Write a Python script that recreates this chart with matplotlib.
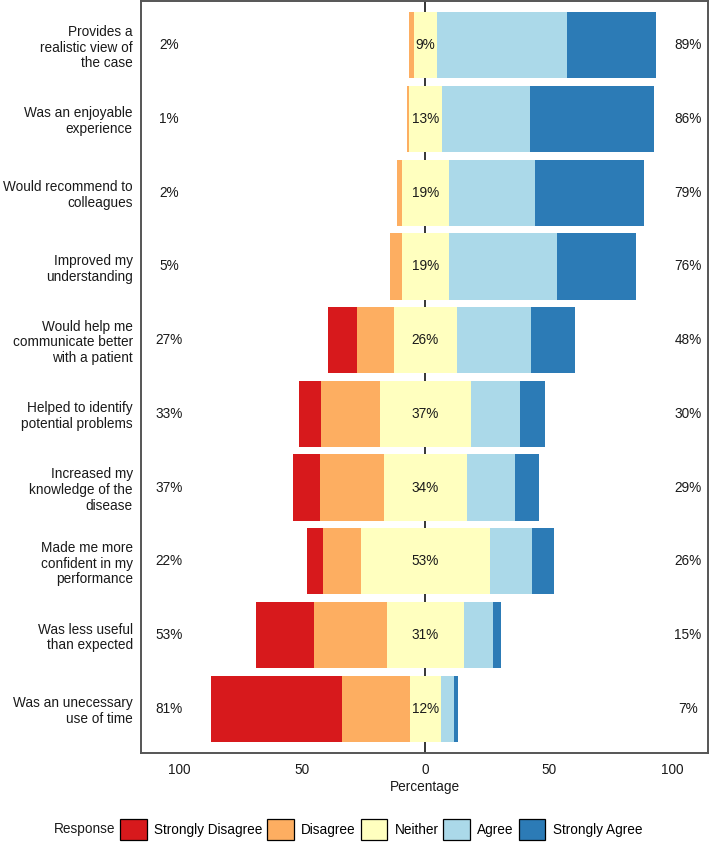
import matplotlib
matplotlib.use("Agg")
import matplotlib.pyplot as plt
from matplotlib.patches import Patch
import numpy as np

plt.rcParams['font.family'] = ['Liberation Sans', 'DejaVu Sans']

items = [
    "Provides a\nrealistic view of\nthe case",
    "Was an enjoyable\nexperience",
    "Would recommend to\ncolleagues",
    "Improved my\nunderstanding",
    "Would help me\ncommunicate better\nwith a patient",
    "Helped to identify\npotential problems",
    "Increased my\nknowledge of the\ndisease",
    "Made me more\nconfident in my\nperformance",
    "Was less useful\nthan expected",
    "Was an unecessary\nuse of time",
]
levels = ["Strongly Disagree", "Disagree", "Neither", "Agree", "Strongly Agree"]
colors = ["#D7191C", "#FDAE61", "#FFFFBF", "#ABD9E9", "#2C7BB6"]

strongly_disagree = [0.0, 0.0, 0.0, 0.0, 11.9, 9.2, 11.1, 6.5, 23.6, 53.0]
disagree          = [2.0, 1.0, 2.0, 5.0, 14.9, 23.9, 25.8, 15.2, 29.8, 27.9]
neither           = [9.0, 13.0, 19.0, 19.0, 25.6, 36.7, 33.8, 52.6, 31.0, 12.3]
agree             = [53.0, 36.0, 35.0, 44.0, 29.9, 19.9, 19.3, 16.8, 11.8, 5.6]
strongly_agree    = [36.0, 50.0, 44.0, 32.0, 17.8, 10.2, 10.0, 8.9, 3.4, 1.3]

W, H = 709, 844
fig = plt.figure(figsize=(W / 100, H / 100), dpi=100)
ax = fig.add_axes([141 / W, (H - 753) / H, (708 - 141) / W, (753 - 1) / H])

sd = np.array(strongly_disagree)
d = np.array(disagree)
n = np.array(neither)
a = np.array(agree)
sa = np.array(strongly_agree)
y = np.arange(len(items))

ax.axvline(0, color="black", lw=1.1, zorder=1)

bh = 0.9
left_n = -n / 2
ax.barh(y, n, left=left_n, height=bh, color=colors[2], zorder=2, lw=0)
ax.barh(y, -d, left=left_n, height=bh, color=colors[1], zorder=2, lw=0)
ax.barh(y, -sd, left=left_n - d, height=bh, color=colors[0], zorder=2, lw=0)
ax.barh(y, a, left=n / 2, height=bh, color=colors[3], zorder=2, lw=0)
ax.barh(y, sa, left=n / 2 + a, height=bh, color=colors[4], zorder=2, lw=0)

fs = 9.8
tc = "#1a1a1a"
low = sd + d
high = a + sa
for i in range(len(items)):
    ax.text(-104, y[i], f"{round(low[i]):.0f}%", ha="center", va="center", fontsize=fs, color=tc, zorder=3)
    ax.text(0, y[i], f"{round(n[i]):.0f}%", ha="center", va="center", fontsize=fs, color=tc, zorder=3)
    ax.text(106.5, y[i], f"{round(high[i]):.0f}%", ha="center", va="center", fontsize=fs, color=tc, zorder=3)

ax.set_xlim(-115.4, 114.6)
ax.set_ylim(len(items) - 0.4, -0.6)
ax.set_yticks(y)
ax.set_yticklabels(items, fontsize=fs, color=tc, linespacing=1.15)
ax.set_xticks([-100, -50, 0, 50, 100])
ax.set_xticklabels(["100", "50", "0", "50", "100"], fontsize=fs, color=tc)
ax.tick_params(axis="both", length=0)
ax.tick_params(axis="y", pad=6)
ax.tick_params(axis="x", pad=7)
ax.set_xlabel("Percentage", fontsize=fs, color=tc, labelpad=2)
for s in ax.spines.values():
    s.set_color("#555555")
    s.set_linewidth(1.4)

handles = [Patch(facecolor=c, edgecolor="black", linewidth=0.9, label=l) for c, l in zip(colors, levels)]
fig.legend(handles=handles, loc="center left", bbox_to_anchor=(120 / W, (H - 829.5) / H),
           ncol=5, frameon=False, fontsize=fs, handlelength=1.95, handleheight=1.95,
           handletextpad=0.55, columnspacing=0.35, borderpad=0, borderaxespad=0)
fig.text(54 / W, (H - 829.5) / H, "Response", ha="left", va="center", fontsize=fs, color=tc)

fig.savefig("out.png", dpi=100)
